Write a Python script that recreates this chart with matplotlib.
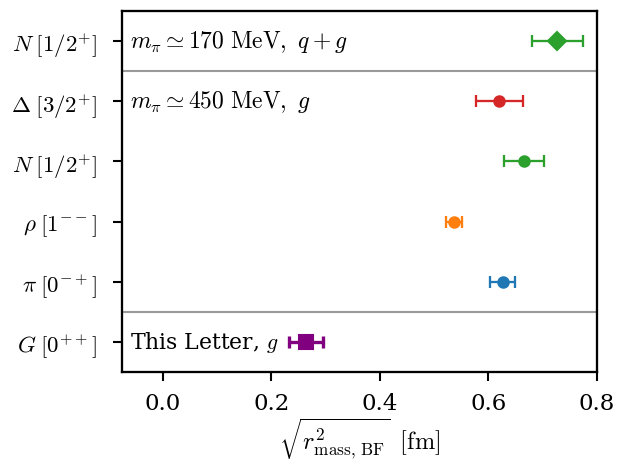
import matplotlib
matplotlib.use("Agg")
import matplotlib.pyplot as plt

plt.rcParams['font.family'] = 'DejaVu Serif'
plt.rcParams['mathtext.fontset'] = 'cm'
plt.rcParams['font.size'] = 11

labels = [r'$G\;[0^{++}]$', r'$\pi\;[0^{-+}]$', r'$\rho\;[1^{--}]$',
          r'$N\;[1/2^{+}]$', r'$\Delta\;[3/2^{+}]$', r'$N\;[1/2^{+}]$']
values = [0.264, 0.626, 0.536, 0.666, 0.620, 0.727]
errors = [0.031, 0.023, 0.015, 0.037, 0.043, 0.047]
colors = ['purple', '#1f77b4', '#ff7f0e', '#2ca02c', '#d62728', '#2ca02c']
markers = ['s', 'o', 'o', 'o', 'o', 'D']

fig, ax = plt.subplots(figsize=(627/150, 466/150), dpi=150)
for i, (v, e, c, m) in enumerate(zip(values, errors, colors, markers)):
    ms = 7 if m == 's' else (6 if m == 'D' else 5)
    lw = 1.6 if m == 's' else 1.1
    ax.errorbar(v, i, xerr=e, fmt=m, color=c, ms=ms, capsize=3, elinewidth=lw,
                capthick=lw)

ax.axhline(0.5, color='#999999', lw=1)
ax.axhline(4.5, color='#999999', lw=1)
ax.set_xlim(-0.075, 0.8)
ax.set_ylim(-0.5, 5.5)
ax.set_yticks(range(len(labels)))
ax.set_yticklabels(labels, fontsize=11)
ax.set_xticks([0.0, 0.2, 0.4, 0.6, 0.8])
ax.tick_params(axis='x', labelsize=11, length=4.5, width=1, pad=5)
ax.tick_params(axis='y', length=4.5, width=1, pad=7.5)
for s in ax.spines.values():
    s.set_linewidth(1.1)
ax.set_xlabel(r'$\sqrt{r^2_{\mathrm{mass,\,BF}}}\;\;[\mathrm{fm}]$', fontsize=11.7, labelpad=1)

ax.text(-0.0605, 5, r'$m_\pi \simeq 170\ \mathrm{MeV},\ q+g$', va='center', ha='left', fontsize=11.3)
ax.text(-0.0605, 4, r'$m_\pi \simeq 450\ \mathrm{MeV},\ g$', va='center', ha='left', fontsize=11.3)
ax.text(-0.0605, 0, r'This Letter, $g$', va='center', ha='left', fontsize=10.5)

fig.subplots_adjust(left=122/627, right=597/627, top=1-12/466, bottom=1-373/466)
fig.savefig('out.png', dpi=150)
